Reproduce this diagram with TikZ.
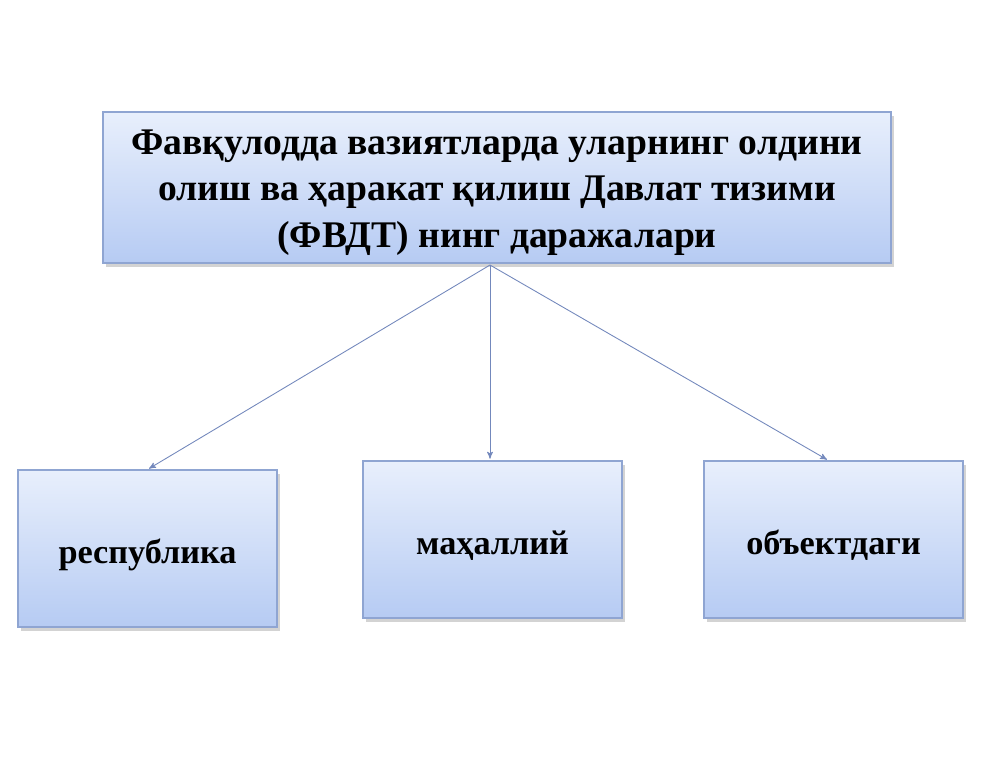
\documentclass[tikz,border=0pt]{standalone}
\usepackage{fontspec}
\setmainfont{Liberation Serif}
\usepackage{xcolor}
\usetikzlibrary{arrows, positioning, shadows}

\definecolor{boxtop}{HTML}{E8EFFC}
\definecolor{boxbot}{HTML}{B6CBF3}
\definecolor{boxline}{HTML}{8FA5D2}
\definecolor{linkline}{HTML}{7388BC}

\tikzset{
	levelbox/.style={draw=boxline, line width=0.6pt, top color=boxtop, bottom color=boxbot,
		drop shadow={opacity=0.35, shadow xshift=0.5mm, shadow yshift=-0.8mm},
		font=\bfseries\fontsize{19.5}{25}\selectfont, align=center, inner sep=0pt,
		minimum width=5.18cm, minimum height=3.14cm, text height=0.74cm, text depth=0.14cm},
	link/.style={->, >=stealth', draw=linkline, line width=0.5pt, shorten >=1pt}
}

\begin{document}
\begin{tikzpicture}
	\useasboundingbox (0,0) rectangle (20.16,-15.12);

	\node[levelbox, minimum width=15.76cm, minimum height=3.02cm] (levels) at (9.94,-3.75) {};
	\node[font=\bfseries\fontsize{21.4}{26.5}\selectfont, align=center, inner sep=0pt]
		(levelstext) at ([yshift=-0.1cm]levels.center)
		{Фавқулодда вазиятларда уларнинг олдини\\олиш ва ҳаракат қилиш Давлат тизими\\(ФВДТ) нинг даражалари};

	\node[levelbox] (republic) at (2.95,-10.97) {республика};
	\node[levelbox] (local) at (9.85,-10.79) {маҳаллий};
	\node[levelbox] (object) at (16.67,-10.79) {объектдаги};

	\coordinate (fork) at (9.8,-5.3);
	\draw[link] (fork) -- (republic.north);
	\draw[link] (fork) -- (local.north -| fork);
	\draw[link] (fork) -- ([xshift=-1mm]object.north);
\end{tikzpicture}
\end{document}
